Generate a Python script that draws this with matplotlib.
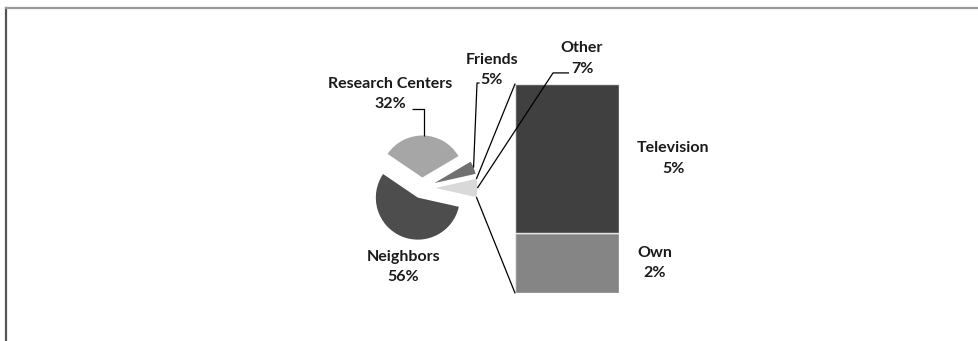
import numpy as np
import matplotlib.pyplot as plt
from matplotlib.lines import Line2D
from matplotlib.patches import ConnectionPatch

plt.rcParams['font.family'] = ['Lato', 'DejaVu Sans']

# --------------- data ---------------
pie_labels = ['Other', 'Friends', 'Research Centers', 'Neighbors']
pie_values = [7, 5, 32, 56]
pie_colors = ['#d9d9d9', '#707070', '#a6a6a6', '#4d4d4d']
pie_explode = [0.32, 0.32, 0.25, 0.25]

bar_labels = ['Own', 'Television']
bar_values = [2, 5]
bar_colors = ['#858585', '#404040']

W, H = 979, 341
fig = plt.figure(figsize=(W / 100, H / 100), dpi=100)


def px_axes(x, y, w, h):
    # x, y = top-left corner in pixels
    return fig.add_axes([x / W, 1 - (y + h) / H, w / W, h / H])


# frame of the original chart area
fig.add_artist(Line2D([6 / W, 6 / W], [0, 1 - 8 / H], transform=fig.transFigure,
                      color='#555555', lw=1.6))
fig.add_artist(Line2D([6 / W, 1], [1 - 8 / H, 1 - 8 / H], transform=fig.transFigure,
                      color='#9a9a9a', lw=1.6))

# --------------- bar ---------------
ax2 = px_axes(515, 84, 104, 209)
bottoms = np.concatenate([[0], np.cumsum(bar_values)[:-1]])
ax2.bar([0] * len(bar_values), bar_values, bottom=bottoms, width=1,
        color=bar_colors, edgecolor='#e6e6e6', linewidth=1)
ax2.set_xlim(-0.5, 0.5)
ax2.set_ylim(0, sum(bar_values))
ax2.axis('off')

# --------------- pie ---------------
unit = 42.0  # pixels per pie radius
ax = px_axes(322, 88, 200, 200)
ax.set_zorder(3)
start = -180 * pie_values[0] / sum(pie_values)
wedges, _ = ax.pie(pie_values, colors=pie_colors, explode=pie_explode,
                   startangle=start, radius=1, wedgeprops=dict(linewidth=0))
lim = 100 / unit
ax.set_xlim(-lim, lim)
ax.set_ylim(-lim, lim)
ax.set_aspect('equal')
ax.axis('off')


def tip(w, ang=None):
    if ang is None:
        ang = (w.theta1 + w.theta2) / 2
    a = np.radians(ang)
    return w.center[0] + w.r * np.cos(a), w.center[1] + w.r * np.sin(a)


txt = dict(ha='center', va='center', fontsize=11.5, fontweight='bold',
           color='#1a1a1a', linespacing=1.6)
lead = dict(color='black', lw=0.9, solid_capstyle='butt')

# Other
w = wedges[0]
tx, ty = tip(w)
ax.text(3.81, 3.08, f'{pie_labels[0]}\n{pie_values[0]}%', **txt)
ax.plot([tx, 3.12, 3.50], [ty, 2.74, 2.74], clip_on=False, **lead)

# Friends
w = wedges[1]
tx, ty = tip(w)
ax.text(1.66, 2.81, f'{pie_labels[1]}\n{pie_values[1]}%', **txt)
ax.plot([tx, 1.31, 1.37], [ty, 2.5, 2.5], clip_on=False, **lead)

# Research Centers
w = wedges[2]
tx, ty = tip(w)
ax.text(-0.76, 2.24, f'{pie_labels[2]}\n{pie_values[2]}%', **txt)
ax.plot([tx, tx, -0.24], [ty, 1.88, 1.88], clip_on=False, **lead)

# Neighbors
ax.text(-0.45, -1.88, f'{pie_labels[3]}\n{pie_values[3]}%', **txt)

label_x = [0.846, 1.02]
for lab, v, b, lx in zip(bar_labels, bar_values, bottoms, label_x):
    ax2.text(lx, b + v / 2, f'{lab}\n{v}%', **txt)

# connectors between "Other" slice and the bar
w = wedges[0]
for ang, yb in [(w.theta2, sum(bar_values)), (w.theta1, 0)]:
    con = ConnectionPatch(xyA=tip(w, ang), coordsA=ax.transData,
                          xyB=(-0.5, yb), coordsB=ax2.transData,
                          color='black', lw=0.9)
    fig.add_artist(con)

fig.savefig('out.png', dpi=100)
